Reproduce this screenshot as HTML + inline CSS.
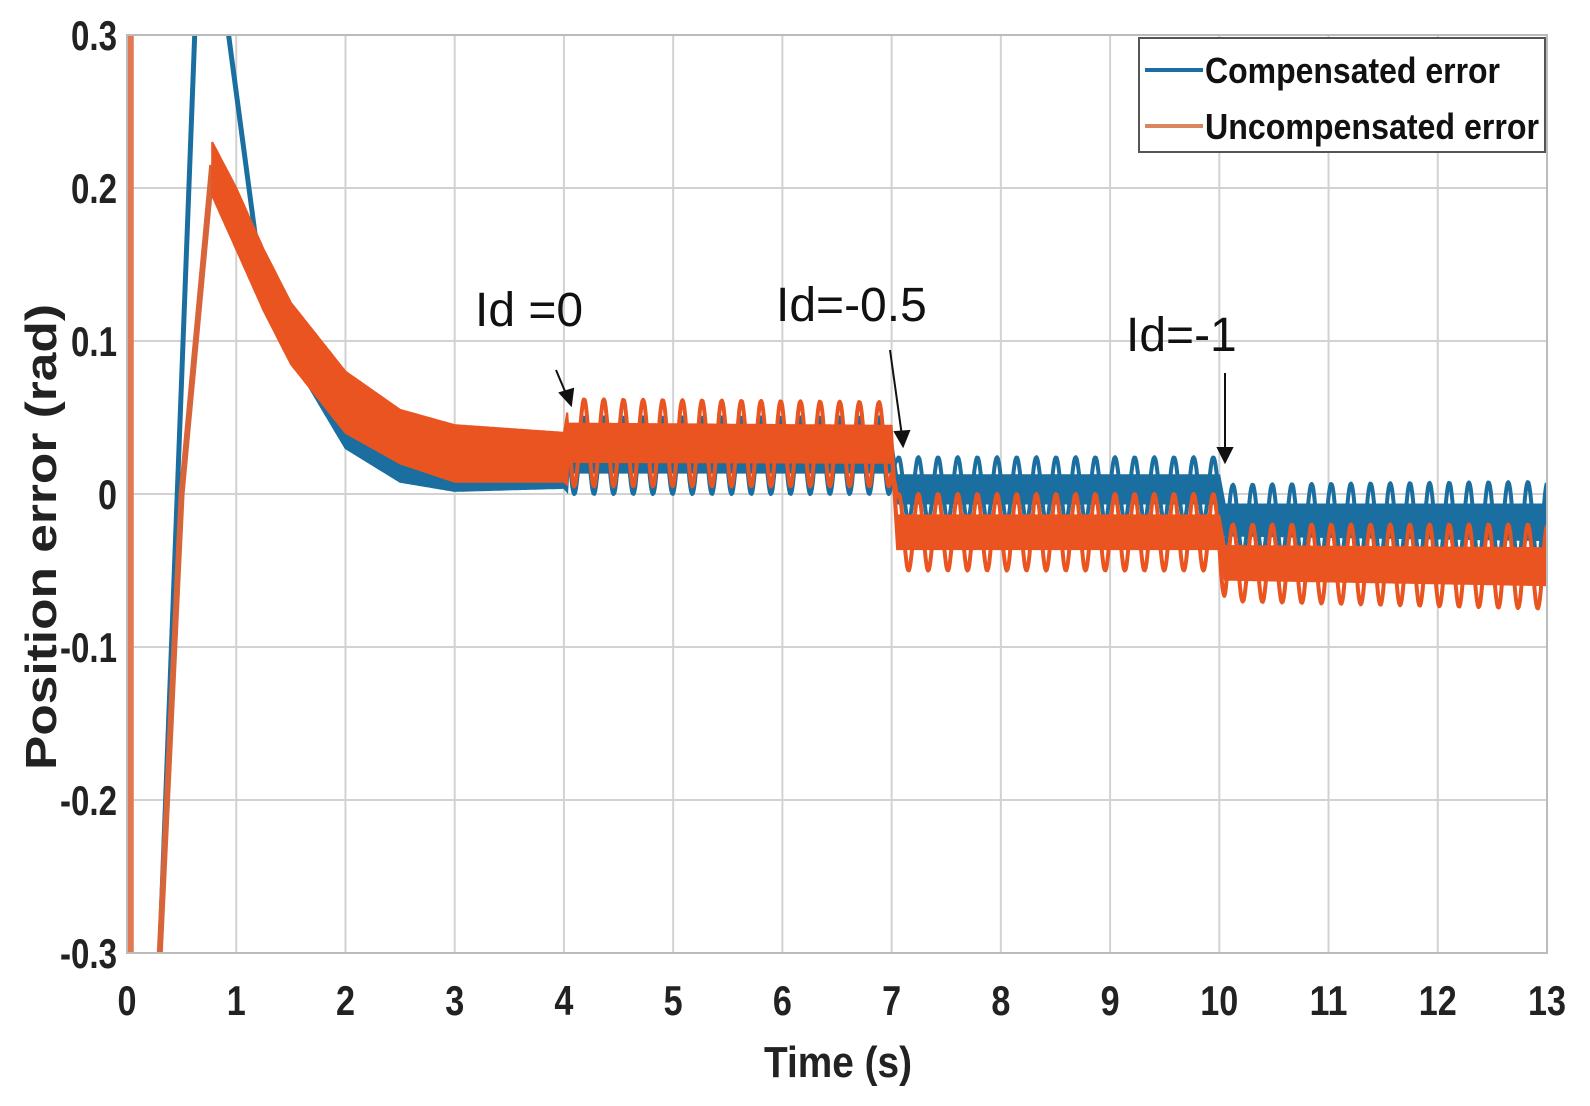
<!DOCTYPE html>
<html><head><meta charset="utf-8">
<style>
html,body{margin:0;padding:0;background:#fff;}
svg{display:block;}
text{font-family:"Liberation Sans",sans-serif;}
</style></head>
<body>
<svg id="chart" width="1590" height="1106" viewBox="0 0 1590 1106" xmlns="http://www.w3.org/2000/svg">
<g id="grid"></g>
<g id="series"></g>
<g id="axes"></g>
<text x="56" y="537" transform="rotate(-90 56 537)" text-anchor="middle" font-size="44" font-weight="bold" fill="#222" textLength="466" lengthAdjust="spacingAndGlyphs">Position error (rad)</text>
<text x="838" y="1077" text-anchor="middle" font-size="44" font-weight="bold" fill="#222" textLength="148" lengthAdjust="spacingAndGlyphs">Time (s)</text>
<g>
<rect x="1139" y="38" width="406" height="114" fill="#fff" stroke="#555" stroke-width="2"/>
<line x1="1145" y1="70" x2="1203" y2="70" stroke="#1a6fa0" stroke-width="4"/>
<text x="1205" y="83" font-size="36" font-weight="bold" fill="#111" textLength="295" lengthAdjust="spacingAndGlyphs">Compensated error</text>
<line x1="1145" y1="126" x2="1203" y2="126" stroke="#d9865f" stroke-width="4"/>
<text x="1205" y="139" font-size="36" font-weight="bold" fill="#111" textLength="334" lengthAdjust="spacingAndGlyphs">Uncompensated error</text>
</g>
<g>
<text x="475" y="326" font-size="48" fill="#111">Id =0</text>
<text x="776" y="321" font-size="48" fill="#111">Id=-0.5</text>
<text x="1126" y="351" font-size="48" fill="#111">Id=-1</text>
<g stroke="#111" stroke-width="2" fill="#111">
<line x1="556" y1="370" x2="567" y2="396"/>
<polygon points="571,405 560,393 573,389"/>
<line x1="890" y1="350" x2="902" y2="436"/>
<polygon points="903,446 895,432 909,431"/>
<line x1="1225" y1="373" x2="1225" y2="452"/>
<polygon points="1225,462 1218,448 1232,448"/>
</g>
</g>
</svg>
<script>
const xTicks = [0,1,2,3,4,5,6,7,8,9,10,11,12,13];
const yTicks = [0.3,0.2,0.1,0,-0.1,-0.2,-0.3];
const yTickLabels = ["0.3","0.2","0.1","0","-0.1","-0.2","-0.3"];
const blueTransT = [0.30,0.62,0.78,0.93,1.2];
const blueTransV = [-0.30,0.30,0.42,0.30,0.155];
const orangeTransT = [0.30,0.50,0.78];
const orangeTransV = [-0.30,0.00,0.215];
const blueBandT  = [1.2,1.5,2.0,2.5,3.0,4.0,4.05,7.0,7.05,10.0,10.05,13.0];
const blueBandLo = [0.150,0.090,0.030,0.008,0.002,0.004,0.000,0.000,-0.018,-0.018,-0.040,-0.045];
const blueBandHi = [0.160,0.100,0.045,0.022,0.014,0.028,0.050,0.050,0.024,0.024,0.006,0.008];
const orangeBandT  = [0.78,1.0,1.25,1.5,2.0,2.5,3.0,4.0,4.05,7.0,7.05,10.0,10.05,13.0];
const orangeBandLo = [0.195,0.160,0.120,0.085,0.040,0.020,0.008,0.008,0.005,0.005,-0.050,-0.050,-0.070,-0.075];
const orangeBandHi = [0.230,0.200,0.160,0.125,0.080,0.055,0.045,0.040,0.062,0.060,0.000,0.000,-0.020,-0.020];
const rippleStart = 4.03;
const ripplePeriod = 0.18;

const L=127,R=1547,T=35,B=953;
const xs=t=>L+t/13*(R-L);
const ys=v=>T+(0.3-v)/0.6*(B-T);
const NS="http://www.w3.org/2000/svg";
function mk(tag,attrs,parent){const e=document.createElementNS(NS,tag);for(const k in attrs)e.setAttribute(k,attrs[k]);parent.appendChild(e);return e;}
const grid=document.getElementById('grid'),axes=document.getElementById('axes'),ser=document.getElementById('series');
const defs=mk('defs',{},ser);
const cp=mk('clipPath',{id:'pc'},defs);
mk('rect',{x:L,y:T,width:R-L,height:B-T},cp);

xTicks.forEach(t=>{
  const g=mk('line',{x1:xs(t),y1:T,x2:xs(t),y2:B,stroke:'#d2d2d2','stroke-width':2},grid);
  
  
  const s=String(t);
  const tx=mk('text',{x:xs(t),y:1015,'text-anchor':'middle','font-size':42,'font-weight':'bold',fill:'#222',textLength:s.length*19,lengthAdjust:'spacingAndGlyphs'},axes);
  tx.textContent=s;
  
  
});
yTicks.forEach((v,i)=>{
  const g=mk('line',{x1:L,y1:ys(v),x2:R,y2:ys(v),stroke:'#d2d2d2','stroke-width':2},grid);
  
  
  const s=yTickLabels[i];
  const w=s.replace('.','').replace('-','').length*19+(s.includes('.')?8:0)+(s.includes('-')?11:0);
  const tx=mk('text',{x:117,y:ys(v)+15,'text-anchor':'end','font-size':42,'font-weight':'bold',fill:'#222',textLength:w,lengthAdjust:'spacingAndGlyphs'},axes);
  tx.textContent=s;
  
  
});
const frame=mk('rect',{x:L,y:T,width:R-L,height:B-T,fill:'none',stroke:'#bbb','stroke-width':2},axes);



function interp(ts,vs,t){
  if(t<=ts[0])return vs[0];
  for(let i=1;i<ts.length;i++){if(t<=ts[i]){const f=(t-ts[i-1])/(ts[i]-ts[i-1]);return vs[i-1]+f*(vs[i]-vs[i-1]);}}
  return vs[vs.length-1];
}
function band(ts,lo,hi,color,name){
  const g=mk('g',{'clip-path':'url(#pc)'},ser);
  
  
  const tEnd=ts[ts.length-1];
  let top=[],bot=[];
  for(let t=ts[0];t<=tEnd+1e-9;t+=0.01){
    const l=interp(ts,lo,t),h=interp(ts,hi,t),d=h-l;
    const k=t<rippleStart?0:0.28;
    top.push(xs(t).toFixed(1)+','+ys(h-k*d).toFixed(1));
    bot.unshift(xs(t).toFixed(1)+','+ys(l+k*d).toFixed(1));
  }
  const p=mk('polygon',{points:top.concat(bot).join(' '),fill:color,stroke:color,'stroke-width':2},g);
  
  
  let pts=[];
  for(let t=rippleStart;t<=tEnd+1e-9;t+=0.008){
    const l=interp(ts,lo,t),h=interp(ts,hi,t);
    const ph=0.5+0.5*Math.sin(2*Math.PI*t/ripplePeriod);
    pts.push(xs(t).toFixed(1)+','+ys(l+(h-l)*ph).toFixed(1));
  }
  const pl=mk('polyline',{points:pts.join(' '),fill:'none',stroke:color,'stroke-width':4,'stroke-linejoin':'round'},g);
  
  
}
function line(ts,vs,color,w,name){
  const pts=ts.map((t,i)=>xs(t).toFixed(1)+','+ys(vs[i]).toFixed(1)).join(' ');
  const pl=mk('polyline',{points:pts,fill:'none',stroke:color,'stroke-width':w,'clip-path':'url(#pc)','stroke-linejoin':'round'},ser);
  
  
}
const BLUE='#1a6fa0',OR='#ea5420';
line(blueTransT,blueTransV,BLUE,5,'compensated-transient');
band(blueBandT,blueBandLo,blueBandHi,BLUE,'compensated-error-band');
const sp=mk('line',{x1:xs(0.03),y1:T,x2:xs(0.03),y2:B,stroke:'#e07a55','stroke-width':7},ser);


line(orangeTransT,orangeTransV,'#d8643a',6,'uncompensated-transient');
band(orangeBandT,orangeBandLo,orangeBandHi,OR,'uncompensated-error-band');
</script>
</body></html>
